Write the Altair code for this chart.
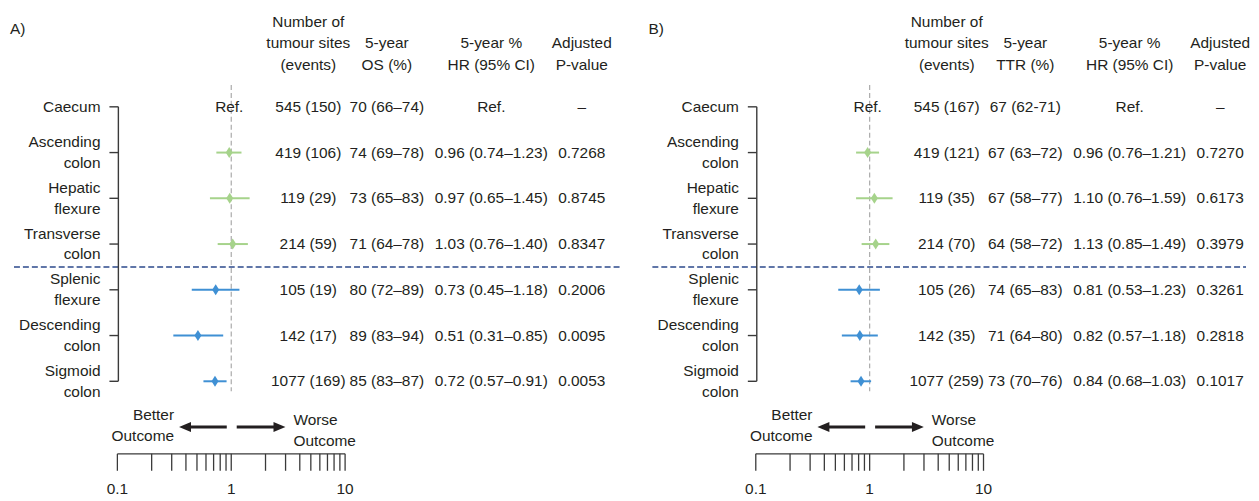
import altair as alt
import pandas as pd

# ---------------- data ----------------
row_labels = ["Caecum", "Ascending\ncolon", "Hepatic\nflexure", "Transverse\ncolon",
              "Splenic\nflexure", "Descending\ncolon", "Sigmoid\ncolon"]
row_side = ["Ref", "Right", "Right", "Right", "Left", "Left", "Left"]

a_tag = "A)"
a_header = ["Number of\ntumour sites\n(events)", "5-year\nOS (%)", "5-year %\nHR (95% CI)", "Adjusted\nP-value"]
a_events = ["545 (150)", "419 (106)", "119 (29)", "214 (59)", "105 (19)", "142 (17)", "1077 (169)"]
a_rate = ["70 (66–74)", "74 (69–78)", "73 (65–83)", "71 (64–78)", "80 (72–89)", "89 (83–94)", "85 (83–87)"]
a_hr_text = ["Ref.", "0.96 (0.74–1.23)", "0.97 (0.65–1.45)", "1.03 (0.76–1.40)",
             "0.73 (0.45–1.18)", "0.51 (0.31–0.85)", "0.72 (0.57–0.91)"]
a_pval = ["–", "0.7268", "0.8745", "0.8347", "0.2006", "0.0095", "0.0053"]
a_hr = [None, 0.96, 0.97, 1.03, 0.73, 0.51, 0.72]
a_lo = [None, 0.74, 0.65, 0.76, 0.45, 0.31, 0.57]
a_hi = [None, 1.23, 1.45, 1.40, 1.18, 0.85, 0.91]

b_tag = "B)"
b_header = ["Number of\ntumour sites\n(events)", "5-year\nTTR (%)", "5-year %\nHR (95% CI)", "Adjusted\nP-value"]
b_events = ["545 (167)", "419 (121)", "119 (35)", "214 (70)", "105 (26)", "142 (35)", "1077 (259)"]
b_rate = ["67 (62-71)", "67 (63–72)", "67 (58–77)", "64 (58–72)", "74 (65–83)", "71 (64–80)", "73 (70–76)"]
b_hr_text = ["Ref.", "0.96 (0.76–1.21)", "1.10 (0.76–1.59)", "1.13 (0.85–1.49)",
             "0.81 (0.53–1.23)", "0.82 (0.57–1.18)", "0.84 (0.68–1.03)"]
b_pval = ["–", "0.7270", "0.6173", "0.3979", "0.3261", "0.2818", "0.1017"]
b_hr = [None, 0.96, 1.10, 1.13, 0.81, 0.82, 0.84]
b_lo = [None, 0.76, 0.76, 0.85, 0.53, 0.57, 0.68]
b_hi = [None, 1.21, 1.59, 1.49, 1.23, 1.18, 1.03]

tick_values = [0.1, 0.2, 0.3, 0.4, 0.5, 0.6, 0.7, 0.8, 0.9, 1, 2, 3, 4, 5, 6, 7, 8, 9, 10]
tick_label_values = [0.1, 1, 10]
tick_labels = ["0.1", "1", "10"]
better_text = "Better\nOutcome"
worse_text = "Worse\nOutcome"

# ---------------- styling / layout ----------------
FONT = "Liberation Sans"
FS = 15.5
TXT = "#231f20"
AXC = "#3a3a3a"
GREEN = "#a6d38b"
BLUE = "#3f90d4"
NAVY = "#2d4a8c"
H = 490
ROW0 = 98.0
ROWSTEP = 46.0
DECADE = 114.5
X01 = 110.0
COLS = [302, 381, 486, 577]
HEAD_LH = 21.5
LBL_LH = 21.0
DIAMOND = "M0,-1L0.64,0L0,1L-0.64,0Z"
HEAD_L = "M-1,0L1,-0.85L1,0.85Z"
HEAD_R = "M1,0L-1,-0.85L-1,0.85Z"


def txt(**kw):
    base = dict(font=FONT, fontSize=FS, color=TXT)
    base.update(kw)
    return base


def make_panel(tag, header, events, rate, hr_text, pval, hr, lo, hi, width):
    log_lo = -1 - X01 / DECADE
    log_hi = log_lo + width / DECADE
    xs = alt.Scale(type="log", domain=[10 ** log_lo, 10 ** log_hi], nice=False)
    y_lo = -ROW0 / ROWSTEP
    ys = alt.Scale(domain=[y_lo, y_lo + H / ROWSTEP], reverse=True, nice=False, zero=False)

    def X(f):
        return alt.X(f, type="quantitative", scale=xs, axis=None)

    def Y(f):
        return alt.Y(f, type="quantitative", scale=ys, axis=None)

    rows_df = pd.DataFrame({"row": list(range(len(row_labels))), "label": row_labels,
                            "nlines": [s.count("\n") + 1 for s in row_labels],
                            "events": events, "rate": rate, "hrtxt": hr_text, "p": pval})
    forest_df = pd.DataFrame({"row": list(range(len(row_labels))), "hr": hr, "lo": lo,
                              "hi": hi, "side": row_side}).dropna()
    ticks_df = pd.DataFrame({"t": tick_values})
    tlab_df = pd.DataFrame({"t": tick_label_values, "lab": tick_labels})
    one = pd.DataFrame({"k": [0]})
    color = alt.Color("side:N", scale=alt.Scale(domain=["Right", "Left"], range=[GREEN, BLUE]), legend=None)

    layers = []
    # reference line at HR = 1
    layers.append(alt.Chart(one).mark_rule(color="#aaaaaa", strokeDash=[5, 3], strokeWidth=1.2).encode(
        x=alt.XDatum(1, type="quantitative", scale=xs, axis=None), y=alt.value(76), y2=alt.value(384)))
    # group separator
    layers.append(alt.Chart(one).mark_rule(color=NAVY, strokeDash=[6, 3], strokeWidth=1.6).encode(
        y=alt.YDatum(3.5, type="quantitative", scale=ys, axis=None), x=alt.value(6), x2=alt.value(width - 4)))
    # y axis
    layers.append(alt.Chart(one).mark_rule(color=AXC, strokeWidth=1.4).encode(
        x=alt.value(111), y=alt.YDatum(0, type="quantitative", scale=ys, axis=None), y2=alt.Y2Datum(6)))
    layers.append(alt.Chart(rows_df).mark_rule(color=AXC, strokeWidth=1.4).encode(
        y=Y("row"), x=alt.value(102), x2=alt.value(111)))
    for nl in sorted(set(rows_df["nlines"])):
        layers.append(alt.Chart(rows_df).transform_filter(f"datum.nlines == {nl}").mark_text(
            **txt(align="right", baseline="middle", lineBreak="\n", lineHeight=LBL_LH,
                  dy=-(nl - 1) * LBL_LH / 2)).encode(
            x=alt.value(93), y=Y("row"), text="label:N"))
    # forest
    layers.append(alt.Chart(forest_df).mark_rule(strokeWidth=2).encode(
        x=X("lo"), x2="hi", y=Y("row"), color=color))
    layers.append(alt.Chart(forest_df).mark_point(shape=DIAMOND, filled=True, size=121, opacity=1).encode(
        x=X("hr"), y=Y("row"), color=color))
    layers.append(alt.Chart(rows_df).transform_filter("datum.row == 0").mark_text(
        **txt(align="center", baseline="middle", dx=-2)).encode(
        x=alt.XDatum(1, type="quantitative", scale=xs, axis=None), y=Y("row"), text="hrtxt:N"))
    # table columns
    for cx, f in zip(COLS, ["events", "rate", "hrtxt", "p"]):
        layers.append(alt.Chart(rows_df).mark_text(**txt(align="center", baseline="middle")).encode(
            x=alt.value(cx), y=Y("row"), text=f"{f}:N"))
    # headers (bottom lines aligned)
    for cx, h in zip(COLS, header):
        n = h.count("\n") + 1
        layers.append(alt.Chart(pd.DataFrame({"h": [h]})).mark_text(
            **txt(align="center", baseline="alphabetic", lineBreak="\n", lineHeight=HEAD_LH)).encode(
            x=alt.value(cx), y=alt.value(60.6 - (n - 1) * HEAD_LH), text="h:N"))
    layers.append(alt.Chart(pd.DataFrame({"h": [tag]})).mark_text(
        **txt(align="left", baseline="middle")).encode(x=alt.value(2), y=alt.value(20), text="h:N"))
    # bottom log axis
    layers.append(alt.Chart(one).mark_rule(color=AXC, strokeWidth=1.4).encode(
        x=alt.XDatum(tick_values[0], type="quantitative", scale=xs, axis=None),
        x2=alt.X2Datum(tick_values[-1]), y=alt.value(447)))
    layers.append(alt.Chart(ticks_df).mark_rule(color=AXC, strokeWidth=1.3).encode(
        x=X("t"), y=alt.value(447), y2=alt.value(464)))
    layers.append(alt.Chart(tlab_df).mark_text(**txt(align="center", baseline="middle")).encode(
        x=X("t"), y=alt.value(482), text="lab:N"))
    # direction arrows
    layers.append(alt.Chart(one).mark_rule(color=TXT, strokeWidth=3).encode(
        x=alt.value(220), x2=alt.value(180), y=alt.value(420)))
    layers.append(alt.Chart(one).mark_point(shape=HEAD_L, filled=True, size=144, opacity=1, color=TXT).encode(
        x=alt.value(178), y=alt.value(420)))
    layers.append(alt.Chart(one).mark_rule(color=TXT, strokeWidth=3).encode(
        x=alt.value(230), x2=alt.value(272), y=alt.value(420)))
    layers.append(alt.Chart(one).mark_point(shape=HEAD_R, filled=True, size=144, opacity=1, color=TXT).encode(
        x=alt.value(273), y=alt.value(420)))
    layers.append(alt.Chart(pd.DataFrame({"h": [better_text]})).mark_text(
        **txt(align="right", baseline="middle", lineBreak="\n", lineHeight=21)).encode(
        x=alt.value(167), y=alt.value(408), text="h:N"))
    layers.append(alt.Chart(pd.DataFrame({"h": [worse_text]})).mark_text(
        **txt(align="left", baseline="middle", lineBreak="\n", lineHeight=21)).encode(
        x=alt.value(287), y=alt.value(413), text="h:N"))

    return alt.layer(*layers).properties(width=width, height=H)


left = make_panel(a_tag, a_header, a_events, a_rate, a_hr_text, a_pval, a_hr, a_lo, a_hi, 620)
right = make_panel(b_tag, b_header, b_events, b_rate, b_hr_text, b_pval, b_hr, b_lo, b_hi, 607)

chart = alt.hconcat(left, right, spacing=22).properties(padding=0, background="white").configure_view(stroke=None)

chart.save("out.html", embed_options={"renderer": "svg", "actions": False})
